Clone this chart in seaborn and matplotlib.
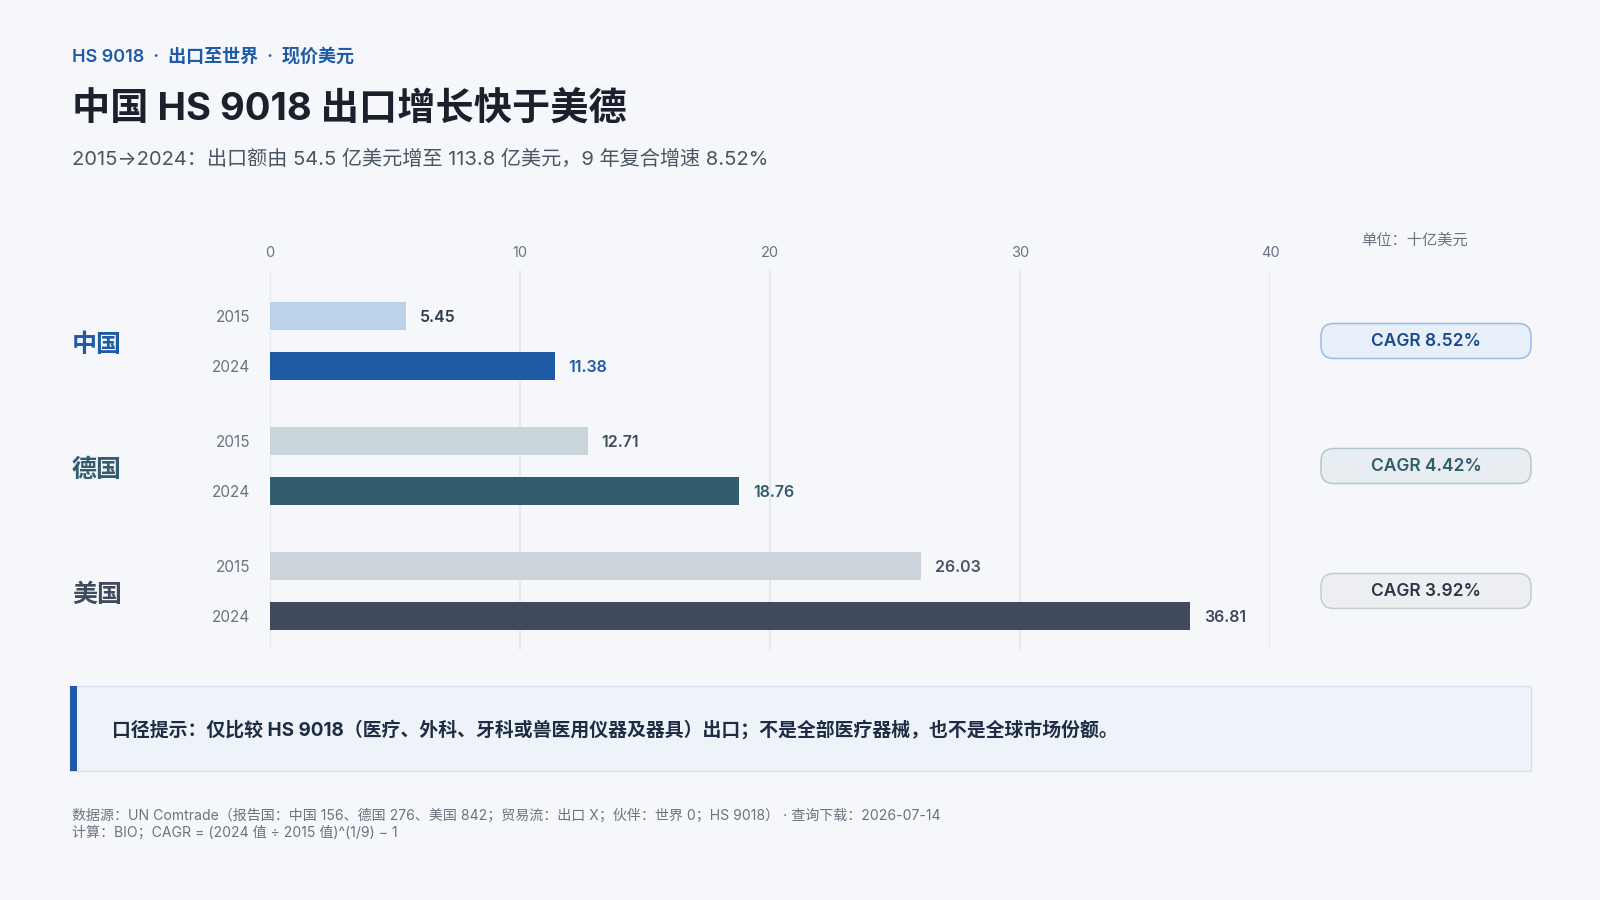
import pandas as pd
import seaborn as sns
import matplotlib.pyplot as plt
from matplotlib.patches import FancyBboxPatch, Rectangle

# --- Data ---
countries = ["中国", "德国", "美国"]
years = ["2015", "2024"]
exports_2015 = [5.45, 12.71, 26.03]
exports_2024 = [11.38, 18.76, 36.81]
cagr_pct = [8.52, 4.42, 3.92]
x_ticks = [0, 10, 20, 30, 40]

# colours per country: (2015 bar, 2024 bar, label colour)
light_cols = ["#BCD2EA", "#C8D5DB", "#CDD3DA"]
dark_cols = ["#1F5AA6", "#335C6E", "#3F4B5C"]
val15_cols = ["#2D3B4E", "#3D4E5A", "#4A5563"]
badge_fill = ["#E6EFFA", "#E7EDF0", "#ECEEF1"]
badge_edge = ["#9DBCE3", "#B5C7CF", "#C5CAD1"]
badge_text = ["#1B4A8A", "#335C6E", "#2D3748"]

BG = "#F5F7FA"
GRAY = "#6B7280"

# build long table: each bar gets its own numeric row position
rows = []
for i, c in enumerate(countries):
    base = i * 2.5
    rows.append({"pos": base, "value": exports_2015[i], "key": c + "2015", "year": "2015"})
    rows.append({"pos": base + 1, "value": exports_2024[i], "key": c + "2024", "year": "2024"})
df = pd.DataFrame(rows)
palette = {}
for i, c in enumerate(countries):
    palette[c + "2015"] = light_cols[i]
    palette[c + "2024"] = dark_cols[i]

sns.set_theme(style="white")
plt.rcParams['font.family'] = ['Inter', 'Noto Sans CJK SC', 'DejaVu Sans']

fig = plt.figure(figsize=(16, 9), dpi=100, facecolor=BG)
W, H = 1600, 900

def fx(px):
    return px / W

def fy(py):
    return 1 - py / H

ax = fig.add_axes([fx(270), fy(650), fx(1270) - fx(270), (650 - 270) / H])
ax.set_facecolor(BG)

sns.barplot(data=df, x="value", y="pos", hue="key", palette=palette, orient="h",
            native_scale=True, dodge=False, width=0.55, legend=False, ax=ax,
            saturation=1, linewidth=0)

ax.set_xlim(0, 40)
ax.set_ylim(6.68, -0.92)
ax.set_xticks(x_ticks)
ax.xaxis.tick_top()
ax.tick_params(axis="x", length=0, pad=7, labelsize=10.5, labelcolor=GRAY)
ax.set_yticks(df["pos"])
ax.set_yticklabels(df["year"])
ax.tick_params(axis="y", length=0, pad=14, labelsize=11, labelcolor=GRAY)
ax.grid(axis="x", color="#E3E6EB", linewidth=1.1)
ax.set_axisbelow(True)
for s in ax.spines.values():
    s.set_visible(False)
ax.set_xlabel("")
ax.set_ylabel("")

# value labels
for i, c in enumerate(countries):
    base = i * 2.5
    ax.text(exports_2015[i] + 0.55, base + 0.03, f"{exports_2015[i]:.2f}", va="center", ha="left",
            fontsize=11.5, fontweight="semibold", color=val15_cols[i])
    ax.text(exports_2024[i] + 0.55, base + 1.03, f"{exports_2024[i]:.2f}", va="center", ha="left",
            fontsize=11.5, fontweight="semibold", color=dark_cols[i])
    # country label
    fig.text(fx(72), fy(345 + i * 125), c, fontsize=18, fontweight="bold",
             color=dark_cols[i], va="center", ha="left")
    # CAGR badge
    cy = 341 + i * 125
    badge = FancyBboxPatch((fx(1321), fy(cy + 17.5)), fx(1531) - fx(1321), 35 / H,
                           boxstyle="round,pad=0,rounding_size=0.008",
                           transform=fig.transFigure, facecolor=badge_fill[i],
                           edgecolor=badge_edge[i], linewidth=1.1, mutation_aspect=16 / 9)
    fig.patches.append(badge)
    fig.text(fx(1426), fy(cy + 1), f"CAGR {cagr_pct[i]:.2f}%", fontsize=12.5, fontweight="semibold",
             color=badge_text[i], va="center", ha="center")

# header
fig.text(fx(72), fy(57), "HS 9018  ·  出口至世界  ·  现价美元", fontsize=13, fontweight="semibold",
         color="#1F5AA6", va="center", ha="left")
fig.text(fx(72), fy(109), "中国 HS 9018 出口增长快于美德", fontsize=27.5, fontweight="bold",
         color="#1A202C", va="center", ha="left")
fig.text(fx(72), fy(159), "2015→2024：出口额由 54.5 亿美元增至 113.8 亿美元，9 年复合增速 8.52%",
         fontsize=14.5, color="#4A5563", va="center", ha="left")
fig.text(fx(1415), fy(240), "单位：十亿美元", fontsize=11, color=GRAY, va="center", ha="center")

# note box
note = Rectangle((fx(70), fy(771)), fx(1531) - fx(70), 85 / H, transform=fig.transFigure,
                 facecolor="#EEF3FA", edgecolor="#D5E0EE", linewidth=1)
fig.patches.append(note)
accent = Rectangle((fx(70), fy(771)), fx(7), 85 / H, transform=fig.transFigure,
                   facecolor="#1F5AA6", edgecolor="none")
fig.patches.append(accent)
fig.text(fx(112), fy(730), "口径提示：仅比较 HS 9018（医疗、外科、牙科或兽医用仪器及器具）出口；不是全部医疗器械，也不是全球市场份额。",
         fontsize=13.6, fontweight="bold", color="#1E2D44", va="center", ha="left")

# footer
fig.text(fx(72), fy(816), "数据源：UN Comtrade（报告国：中国 156、德国 276、美国 842；贸易流：出口 X；伙伴：世界 0；HS 9018） · 查询下载：2026-07-14",
         fontsize=10.1, color=GRAY, va="center", ha="left")
fig.text(fx(72), fy(833), "计算：BIO；CAGR = (2024 值 ÷ 2015 值)^(1/9) − 1",
         fontsize=10.1, color=GRAY, va="center", ha="left")

plt.savefig("out.png", dpi=100, facecolor=BG)
